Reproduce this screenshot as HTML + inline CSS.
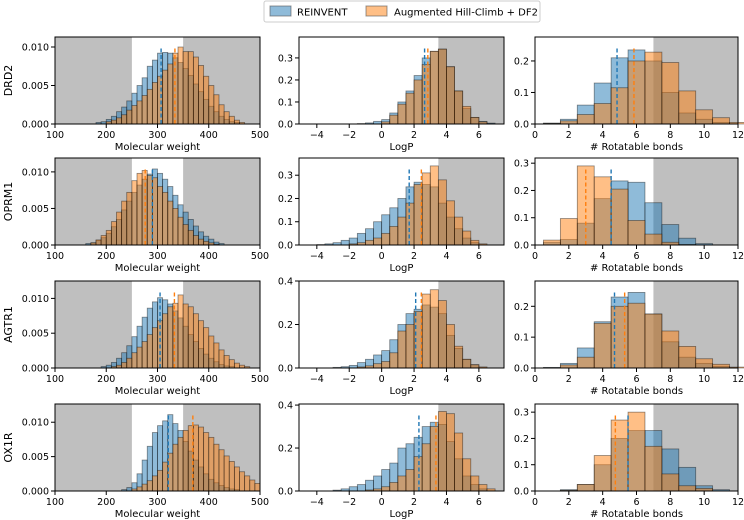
<!DOCTYPE html>
<html><head><meta charset="utf-8"><style>
body{margin:0;background:#fff;}
svg{display:block;font-family:"DejaVu Sans","Liberation Sans",sans-serif;}
</style></head><body>
<svg id="chart" width="744" height="520" viewBox="0 0 744 520">
<g>
<rect x="264" y="1" width="276" height="21" rx="2" fill="#fff" stroke="#ccc"/>
<rect x="270" y="6" width="21" height="10" fill="#8fbbd9" stroke="#555" stroke-opacity="0.6"/>
<text x="297" y="15.5" font-size="10">REINVENT</text>
<rect x="366" y="6" width="21" height="10" fill="#ffbf86" stroke="#555" stroke-opacity="0.6"/>
<text x="394" y="15.5" font-size="10">Augmented Hill-Climb + DF2</text>
</g>
</svg>
<script>
// ---- data ----
const targets=["DRD2","OPRM1","AGTR1","OX1R"];
const mwStartBlue=[180,160,190,230];
const mwStartOrange=[200,170,210,250];
const mwBlue=[
[.0002,.0003,.0006,.001,.0016,.0022,.003,.004,.005,.006,.0075,.0083,.0092,.0093,.0092,.0086,.008,.0072,.0063,.0052,.0042,.0032,.0023,.0016,.001,.0006,.0003,.0002],
[.0002,.0003,.0006,.001,.0016,.0025,.0035,.0048,.006,.0072,.0082,.009,.0097,.0104,.0098,.009,.008,.0068,.0055,.0045,.0035,.0026,.0018,.0012,.0008,.0004,.0002],
[.0002,.0004,.0008,.0014,.0022,.0032,.0045,.006,.0073,.0086,.0095,.0101,.0098,.0092,.0082,.0072,.006,.0048,.0038,.0028,.002,.0014,.0009,.0005,.0003,.0002],
[.0002,.0005,.0012,.0025,.0045,.0065,.0085,.0095,.0102,.0111,.0098,.0088,.0072,.0058,.0045,.0035,.0025,.0017,.0012,.0008,.0005,.0003,.0002]];
const mwOrange=[
[.0003,.0005,.0008,.0012,.0018,.0024,.003,.0037,.0045,.0054,.0062,.007,.0078,.0092,.01,.0094,.0094,.0087,.0076,.0062,.005,.0038,.0025,.0016,.001,.0005,.0002],
[.0003,.0007,.0013,.002,.0032,.0045,.006,.0072,.0088,.0098,.0102,.0095,.0092,.008,.0072,.006,.005,.0038,.0028,.002,.0013,.0008,.0005,.0003,.0001],
[.0002,.0004,.0008,.0014,.0022,.003,.0038,.0048,.0058,.0068,.0078,.0088,.0093,.0105,.0092,.0088,.0078,.0068,.0058,.0046,.0036,.0026,.0018,.0012,.0007,.0004,.0002],
[.0003,.0006,.001,.0015,.0022,.003,.0042,.0055,.0068,.0078,.0088,.0095,.0096,.0093,.0085,.0078,.0068,.006,.0051,.0043,.0035,.0028,.0022,.0016,.0011]];
const mwMeanBlue=[307,290,305,321];
const mwMeanOrange=[334,276,333,369];
const mwMax=[0.0113,0.0119,0.0125,0.01265];
const mwTicks=[100,200,300,400,500];
const mwYTicks=[0,0.005,0.010];

const lpStartBlue=[-1.5,-4,-3,-3];
const lpStartOrange=[0,-2,-1.5,-1];
const lpBlue=[
[.002,.005,.012,.02,.05,.1,.15,.22,.3,.33,.34,.26,.15,.07,.03,.012,.004],
[.002,.005,.01,.02,.03,.05,.07,.1,.13,.16,.2,.25,.27,.26,.25,.18,.12,.07,.03,.01],
[.003,.006,.012,.025,.04,.06,.08,.13,.2,.25,.27,.29,.28,.25,.15,.09,.04,.015],
[.004,.01,.02,.03,.05,.07,.1,.13,.2,.22,.25,.3,.32,.31,.23,.15,.07,.03,.01]];
const lpOrange=[
[.01,.04,.09,.14,.2,.27,.33,.34,.26,.15,.08,.03,.01],
[.005,.01,.02,.03,.05,.08,.12,.18,.26,.31,.34,.28,.19,.12,.06,.02,.005],
[.005,.01,.02,.03,.07,.17,.2,.26,.34,.36,.31,.2,.1,.04,.015,.005],
[.005,.01,.02,.04,.07,.1,.16,.22,.3,.37,.36,.27,.15,.07,.03,.01]];
const lpMeanBlue=[2.65,1.7,2.1,2.3];
const lpMeanOrange=[2.85,2.45,2.45,3.35];
const lpMax=[0.395,0.374,0.4,0.405];
const lpTicks=[-4,-2,0,2,4,6];
const lpYTicksA=[0,0.1,0.2,0.3];
const lpYTicksB=[0,0.2,0.4];

const rbStartBlue=[1,1,1,2];
const rbStartOrange=[1,1,1,2];
const rbBlue=[
[.003,.015,.06,.13,.21,.235,.2,.1,.035,.015,.005],
[.01,.02,.08,.17,.235,.23,.155,.075,.025,.005],
[.002,.015,.065,.15,.23,.245,.175,.085,.035,.015,.005],
[.005,.025,.1,.2,.23,.23,.16,.09,.02,.005]];
const rbOrange=[
[.002,.01,.03,.065,.115,.2,.228,.195,.105,.045,.02,.005],
[.018,.097,.29,.25,.205,.09,.04,.01,.002],
[.001,.01,.035,.145,.2,.21,.175,.12,.07,.03,.012,.003],
[.003,.025,.135,.27,.3,.17,.065,.02,.01]];
const rbMeanBlue=[4.85,4.5,4.7,5.5];
const rbMeanOrange=[5.85,3.0,5.3,4.75];
const rbMax=[0.276,0.319,0.282,0.331];
const rbTicks=[0,2,4,6,8,10,12];
const rbYTicksA=[0,0.1,0.2];
const rbYTicksB=[0,0.1,0.2,0.3];

// ---- drawing ----
const NS="http://www.w3.org/2000/svg";
const svg=document.getElementById('chart');
const rowTop=[37,158,281,404];
const H=87;
const cols=[{x0:55,x1:260},{x0:299,x1:504},{x0:535,x1:738}];
function mk(tag,attrs,parent){const e=document.createElementNS(NS,tag);for(const k in attrs)e.setAttribute(k,attrs[k]);(parent||svg).appendChild(e);return e;}
function fmt(v,dec){return v.toFixed(dec).replace('-','\u2212');}

function panel(r,c,o){
  const top=rowTop[r],bot=top+H,x0=cols[c].x0,x1=cols[c].x1;
  const sx=v=>x0+(v-o.xmin)/(o.xmax-o.xmin)*(x1-x0);
  const sy=v=>bot-v/o.ymax*H;
  const g=mk('g',{});
  
  
  o.shade.forEach(([a,b])=>{
    const s=mk('rect',{x:sx(a),y:top,width:sx(b)-sx(a),height:H,fill:'#bfbfbf'},g);
    
    
  });
  [[o.blue,o.sb,'#1f77b4','blue'],[o.orange,o.so,'#ff7f0e','orange']].forEach(([vals,start,col,nm])=>{
    vals.forEach((v,i)=>{
      const a=start+i*o.w,b=a+o.w;
      const rc=mk('rect',{x:sx(a),y:sy(v),width:sx(b)-sx(a),height:bot-sy(v),fill:col,'fill-opacity':0.5,stroke:'#000','stroke-opacity':0.45,'stroke-width':0.8},g);
      
      
    });
  });
  [[o.mb,'#1f77b4'],[o.mo,'#ff7f0e']].forEach(([m,col])=>{
    const l=mk('line',{x1:sx(m),x2:sx(m),y1:bot,y2:top+9,stroke:col,'stroke-width':1.4,'stroke-dasharray':'4,2.5'},g);
    
    
  });
  const f=mk('rect',{x:x0,y:top,width:x1-x0,height:H,fill:'none',stroke:'#000','stroke-width':1},g);
  
  
  o.xt.forEach(t=>{
    const X=sx(t);
    mk('line',{x1:X,x2:X,y1:bot,y2:bot+4,stroke:'#000'},g);
    const tx=mk('text',{x:X,y:bot+14,'font-size':9.5,'text-anchor':'middle'},g);
    tx.textContent=fmt(t,0);
    
    
  });
  o.yt.forEach(t=>{
    const Y=sy(t);
    mk('line',{x1:x0-4,x2:x0,y1:Y,y2:Y,stroke:'#000'},g);
    const tx=mk('text',{x:x0-6,y:Y+3.5,'font-size':9.5,'text-anchor':'end'},g);
    tx.textContent=fmt(t,o.yd);
    
    
  });
  const xl=mk('text',{x:(x0+x1)/2,y:bot+26,'font-size':10,'text-anchor':'middle'},g);
  xl.textContent=o.label;
  
  
}

for(let r=0;r<4;r++){
  panel(r,0,{name:'molecular-weight',xmin:100,xmax:500,ymax:mwMax[r],w:10,blue:mwBlue[r],orange:mwOrange[r],sb:mwStartBlue[r],so:mwStartOrange[r],mb:mwMeanBlue[r],mo:mwMeanOrange[r],shade:[[100,250],[350,500]],xt:mwTicks,yt:mwYTicks,yd:3,label:'Molecular weight'});
  panel(r,1,{name:'logp',xmin:-5.1,xmax:7.55,ymax:lpMax[r],w:0.5,blue:lpBlue[r],orange:lpOrange[r],sb:lpStartBlue[r],so:lpStartOrange[r],mb:lpMeanBlue[r],mo:lpMeanOrange[r],shade:[[3.5,7.55]],xt:lpTicks,yt:r<2?lpYTicksA:lpYTicksB,yd:1,label:'LogP'});
  panel(r,2,{name:'rotatable-bonds',xmin:0,xmax:12,ymax:rbMax[r],w:1,blue:rbBlue[r],orange:rbOrange[r],sb:rbStartBlue[r]-0.5,so:rbStartOrange[r]-0.5,mb:rbMeanBlue[r],mo:rbMeanOrange[r],shade:[[7,12]],xt:rbTicks,yt:(r==1||r==3)?rbYTicksB:rbYTicksA,yd:1,label:'# Rotatable bonds'});
  const t=mk('text',{x:0,y:0,'font-size':11,'text-anchor':'middle',transform:`translate(12,${rowTop[r]+H/2}) rotate(-90)`});
  t.textContent=targets[r];
  
  
}
</script>
</body></html>
